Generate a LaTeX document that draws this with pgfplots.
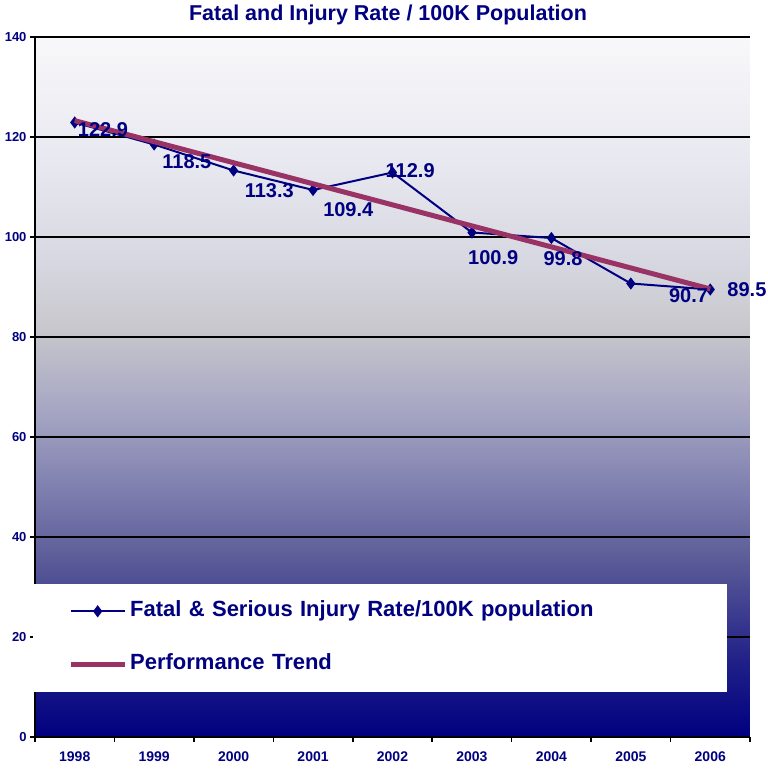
\documentclass[border=0pt]{standalone}
\usepackage{fontspec}
\setmainfont{Liberation Sans}
\usepackage{pgfplots}
\pgfplotsset{compat=1.18}
\definecolor{navy}{RGB}{0,0,128}
\definecolor{trend}{RGB}{153,51,102}
\definecolor{bga}{RGB}{0,0,128}
\definecolor{bgb}{RGB}{32,32,136}
\definecolor{bgc}{RGB}{90,90,152}
\definecolor{bgd}{RGB}{128,128,176}
\definecolor{bge}{RGB}{165,165,195}
\definecolor{bgf}{RGB}{200,200,205}
\definecolor{bgg}{RGB}{215,215,225}
\definecolor{bgh}{RGB}{232,232,240}
\definecolor{bgi}{RGB}{248,248,250}
\pgfdeclareverticalshading{chartbg}{100bp}{color(0bp)=(bga); color(25bp)=(bga); color(30.4bp)=(bgb); color(37.5bp)=(bgc); color(42.9bp)=(bgd); color(48.2bp)=(bge); color(54.3bp)=(bgf); color(58.9bp)=(bgg); color(66.1bp)=(bgh); color(75bp)=(bgi); color(100bp)=(bgi)}
\newcommand{\lbl}{\fontsize{20bp}{22bp}\selectfont\bfseries}
\begin{document}
\begin{tikzpicture}
\useasboundingbox (0,0) rectangle (768bp,771bp);
\node[font=\fontsize{21.5bp}{24bp}\selectfont\bfseries, text=navy, inner sep=0pt] at (388bp,756bp) {Fatal and Injury Rate / 100K Population};
\begin{axis}[
  at={(35bp,34bp)}, anchor=south west,
  scale only axis, width=715bp, height=700bp,
  xmin=-0.5, xmax=8.5, ymin=0, ymax=140,
  clip mode=individual,
  axis background/.style={shading=chartbg},
  axis x line*=bottom, axis y line*=left,
  axis line style={line width=2bp, black, -},
  /pgf/number format/assume math mode=true,
  xtick={-0.5,0.5,1.5,2.5,3.5,4.5,5.5,6.5,7.5,8.5},
  xticklabels={},
  extra x ticks={0,1,2,3,4,5,6,7,8},
  extra x tick labels={1998,1999,2000,2001,2002,2003,2004,2005,2006},
  extra x tick style={major tick length=0pt, grid=none},
  ytick={0,20,...,140},
  tick align=outside,
  major tick length=5bp,
  tick style={black, line width=1.5bp},
  ymajorgrids,
  major grid style={black, line width=1.5bp},
  ticklabel style={font=\fontsize{13bp}{14bp}\selectfont\bfseries, text=navy},
  xticklabel style={font=\fontsize{14bp}{15bp}\selectfont\bfseries, yshift=-11bp},
  legend style={at={(0,0.0643)}, anchor=south west, xshift=-2bp, fill=white, draw=none,
    inner xsep=35bp, inner ysep=18bp, row sep=34bp, column sep=3bp,
    font=\fontsize{22bp}{24bp}\selectfont\bfseries, text=navy,
    nodes={inner sep=0pt, text width=562bp, text height=15bp, text depth=4bp, align=left}},
  legend cell align=left,
  legend image code/.code={\draw[mark repeat=2,mark phase=2,#1] plot coordinates {(0bp,0bp) (27bp,0bp) (54bp,0bp)};},
]
\addplot[navy, line width=2bp, mark=diamond*, mark size=4.5bp, mark options={solid, fill=navy}]
  coordinates {(0,122.9) (1,118.5) (2,113.3) (3,109.4) (4,112.9) (5,100.9) (6,99.8) (7,90.7) (8,89.5)};
\addlegendentry{Fatal \& Serious Injury Rate/100K population}
\addplot[trend, line width=5bp, no marks]
  coordinates {(0,123.27) (1,119.06) (2,114.85) (3,110.64) (4,106.43) (5,102.22) (6,98.02) (7,93.81) (8,89.60)};
\addlegendentry{Performance Trend}
\node[anchor=west, inner sep=0pt, font=\lbl, text=navy, xshift=3bp, yshift=-7bp] at (axis cs:0,122.9) {122.9};
\node[anchor=west, inner sep=0pt, font=\lbl, text=navy, xshift=8bp, yshift=-17bp] at (axis cs:1,118.5) {118.5};
\node[anchor=west, inner sep=0pt, font=\lbl, text=navy, xshift=11bp, yshift=-20bp] at (axis cs:2,113.3) {113.3};
\node[anchor=west, inner sep=0pt, font=\lbl, text=navy, xshift=10bp, yshift=-20bp] at (axis cs:3,109.4) {109.4};
\node[anchor=west, inner sep=0pt, font=\lbl, text=navy, xshift=-7bp, yshift=2bp] at (axis cs:4,112.9) {112.9};
\node[anchor=west, inner sep=0pt, font=\lbl, text=navy, xshift=-4bp, yshift=-25bp] at (axis cs:5,100.9) {100.9};
\node[anchor=west, inner sep=0pt, font=\lbl, text=navy, xshift=-8bp, yshift=-21bp] at (axis cs:6,99.8) {99.8};
\node[anchor=west, inner sep=0pt, font=\lbl, text=navy, xshift=38bp, yshift=-12bp] at (axis cs:7,90.7) {90.7};
\node[anchor=west, inner sep=0pt, font=\lbl, text=navy, xshift=17bp, yshift=0bp] at (axis cs:8,89.5) {89.5};
\end{axis}
\end{tikzpicture}
\end{document}
